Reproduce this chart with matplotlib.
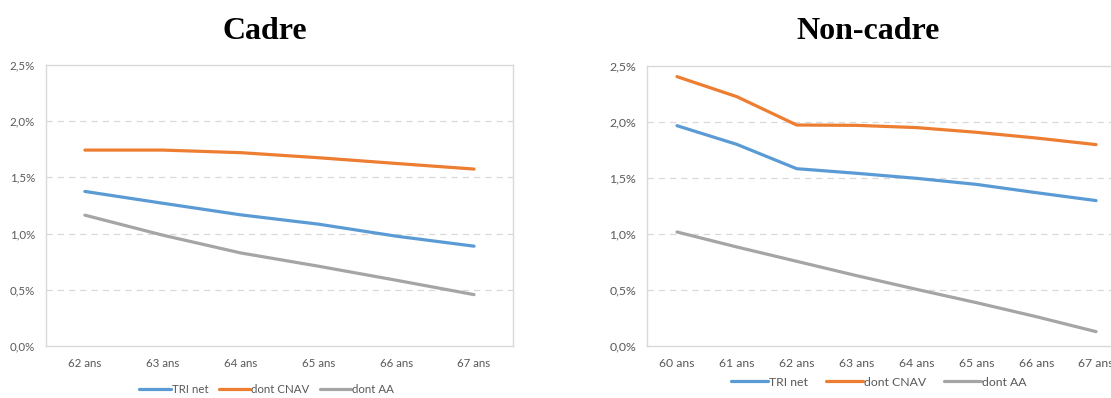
import numpy as np
import matplotlib.pyplot as plt
from matplotlib.ticker import FuncFormatter

# Cadre (62-67 ans)
ages_cadre = ["62 ans", "63 ans", "64 ans", "65 ans", "66 ans", "67 ans"]
cadre_tri_net = [1.375, 1.27, 1.167, 1.084, 0.977, 0.888]
cadre_cnav = [1.743, 1.743, 1.72, 1.675, 1.624, 1.574]
cadre_aa = [1.164, 0.986, 0.828, 0.71, 0.585, 0.457]

# Non-cadre (60-67 ans)
ages_noncadre = ["60 ans", "61 ans", "62 ans", "63 ans", "64 ans", "65 ans", "66 ans", "67 ans"]
noncadre_tri_net = [1.967, 1.80, 1.583, 1.542, 1.497, 1.443, 1.369, 1.298]
noncadre_cnav = [2.405, 2.226, 1.973, 1.97, 1.95, 1.908, 1.857, 1.798]
noncadre_aa = [1.018, 0.884, 0.756, 0.628, 0.506, 0.387, 0.262, 0.128]

series_names = ["TRI net", "dont CNAV", "dont AA"]
COLORS = ["#5B9BD5", "#ED7D31", "#A5A5A5"]
TEXT_COLOR = "#595959"
GRID_COLOR = "#D9D9D9"


def pct_fmt(v, _):
    return f"{v:.1f}%".replace(".", ",")


def draw_panel(ax, ages, series, fontsize):
    x = np.arange(len(ages))
    lines = []
    for values, color, name in zip(series, COLORS, series_names):
        (ln,) = ax.plot(x, values, color=color, lw=2.3, label=name, solid_capstyle="round", zorder=3)
        lines.append(ln)
    ax.set_xlim(-0.5, len(ages) - 0.5)
    ax.set_ylim(0, 2.5)
    ax.set_yticks([0, 0.5, 1.0, 1.5, 2.0, 2.5])
    ax.yaxis.set_major_formatter(FuncFormatter(pct_fmt))
    ax.set_xticks(x)
    ax.set_xticklabels(ages)
    ax.tick_params(axis="both", length=0, labelsize=fontsize, labelcolor=TEXT_COLOR)
    ax.tick_params(axis="x", pad=9)
    ax.tick_params(axis="y", pad=8)
    for label in ax.get_xticklabels() + ax.get_yticklabels():
        label.set_family("Lato")
    for y in [0.5, 1.0, 1.5, 2.0]:
        ax.axhline(y, color=GRID_COLOR, lw=0.9, ls=(0, (5, 4)), zorder=1)
    for spine in ax.spines.values():
        spine.set_color(GRID_COLOR)
        spine.set_linewidth(1.0)
    return lines


fig = plt.figure(figsize=(11.11, 3.98), dpi=100)

ax1 = fig.add_axes([0.0414, 0.1307, 0.4203, 0.7060])
lines = draw_panel(ax1, ages_cadre, [cadre_tri_net, cadre_cnav, cadre_aa], 8.3)
ax1.legend(lines, series_names, loc="center", bbox_to_anchor=(0.240, 0.022), bbox_transform=fig.transFigure,
           ncol=3, frameon=False, handlelength=2.7, columnspacing=0.9, handletextpad=0.1,
           prop={"family": "Lato", "size": 8.3}, labelcolor=TEXT_COLOR)

ax2 = fig.add_axes([0.5824, 0.1307, 0.4311, 0.7035])
lines = draw_panel(ax2, ages_noncadre, [noncadre_tri_net, noncadre_cnav, noncadre_aa], 8.8)
ax2.legend(lines, series_names, loc="center", bbox_to_anchor=(0.791, 0.04), bbox_transform=fig.transFigure,
           ncol=3, frameon=False, handlelength=3.0, columnspacing=1.5, handletextpad=0.1,
           prop={"family": "Lato", "size": 8.8}, labelcolor=TEXT_COLOR)

fig.text(0.2385, 0.902, "Cadre", ha="center", va="baseline", fontsize=23,
         fontweight="bold", family="Liberation Serif")
fig.text(0.781, 0.902, "Non-cadre", ha="center", va="baseline", fontsize=23,
         fontweight="bold", family="Liberation Serif")

fig.savefig("out.png", dpi=100)
